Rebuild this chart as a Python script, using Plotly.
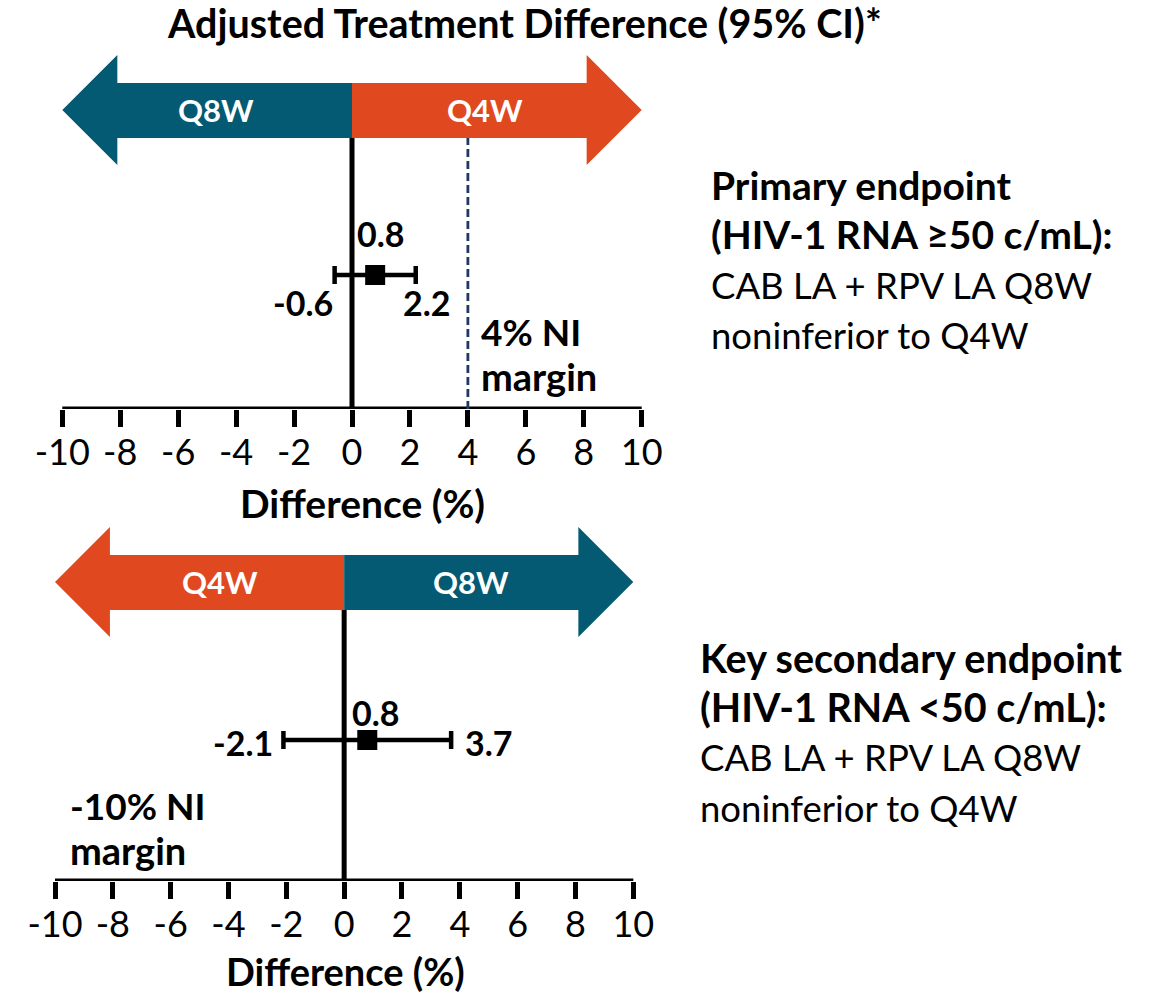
import plotly.graph_objects as go

W, H = 1153, 996

# ---------------- data ----------------
tick_vals = [-10, -8, -6, -4, -2, 0, 2, 4, 6, 8, 10]
tick_text = ["-10", "-8", "-6", "-4", "-2", "0", "2", "4", "6", "8", "10"]

primary_est = [0.8]
primary_lo = [-0.6]
primary_hi = [2.2]
primary_margin = 4

secondary_est = [0.8]
secondary_lo = [-2.1]
secondary_hi = [3.7]
secondary_margin = -10

top_left_label, top_right_label = "Q8W", "Q4W"
bot_left_label, bot_right_label = "Q4W", "Q8W"

title_text = "Adjusted Treatment Difference (95% CI)*"
axis_title = "Difference (%)"
top_margin_text = ["4% NI", "margin"]
bot_margin_text = ["-10% NI", "margin"]
top_side_text = ["<b>Primary endpoint</b>", "<b>(HIV-1 RNA ≥50 c/mL):</b>",
                 "CAB LA + RPV LA Q8W", "noninferior to Q4W"]
bot_side_text = ["<b>Key secondary endpoint</b>", "<b>(HIV-1 RNA <50 c/mL):</b>",
                 "CAB LA + RPV LA Q8W", "noninferior to Q4W"]

# ---------------- style ----------------
TEAL = "#045A72"
ORANGE = "#E0491F"
NAVY = "#1F3864"
FONT = "Lato"
LW = 5

def py(px):
    return 1 - px / H

def pxx(px):
    return px / W

XR = [-10.4, 10.4]
top_x0, top_x1 = 62.3, 641.7
bot_x0, bot_x1 = 55.0, 633.3
def dom(x0, x1):
    u = (x1 - x0) / 20.0
    return [pxx(x0 - 0.4 * u), pxx(x1 + 0.4 * u)]

top_axis_px, bot_axis_px = 409, 881
YR = [0, 360]
top_dom = [py(top_axis_px), py(top_axis_px - 360)]
bot_dom = [py(bot_axis_px), py(bot_axis_px - 360)]

TIP, HEAD = 10.0, 8.1
Y_TIP, Y_HT, Y_HB, Y_BT, Y_BB = 299, 354, 244, 326, 271
ROW_TOP, ROW_BOT = 134, 141

fig = go.Figure()

def arrow_shapes(xref, yref, lcol, rcol):
    left = (f"M 0 {Y_BT} L {-HEAD} {Y_BT} L {-HEAD} {Y_HT} L {-TIP} {Y_TIP} "
            f"L {-HEAD} {Y_HB} L {-HEAD} {Y_BB} L 0 {Y_BB} Z")
    right = (f"M 0 {Y_BT} L {HEAD} {Y_BT} L {HEAD} {Y_HT} L {TIP} {Y_TIP} "
             f"L {HEAD} {Y_HB} L {HEAD} {Y_BB} L 0 {Y_BB} Z")
    return [
        dict(type="path", path=left, xref=xref, yref=yref, fillcolor=lcol,
             line=dict(width=0), layer="below"),
        dict(type="path", path=right, xref=xref, yref=yref, fillcolor=rcol,
             line=dict(width=0), layer="below"),
    ]

shapes = []
shapes += arrow_shapes("x", "y", TEAL, ORANGE)
shapes += arrow_shapes("x2", "y2", ORANGE, TEAL)
for xr, yr in (("x", "y"), ("x2", "y2")):
    shapes.append(dict(type="line", xref=xr, yref=yr, x0=-10, x1=10, y0=0, y1=0,
                       line=dict(color="black", width=LW)))
    shapes.append(dict(type="line", xref=xr, yref=yr, x0=0, x1=0, y0=0, y1=Y_BB,
                       line=dict(color="black", width=LW)))
shapes.append(dict(type="line", xref="x", yref="y", x0=primary_margin, x1=primary_margin,
                   y0=0, y1=Y_BB, line=dict(color=NAVY, width=2.8, dash="8px,4px")))

fig.add_trace(go.Scatter(
    x=primary_est, y=[ROW_TOP], xaxis="x", yaxis="y", mode="markers",
    marker=dict(symbol="square", size=20, color="black"),
    error_x=dict(type="data", symmetric=False,
                 array=[h - e for h, e in zip(primary_hi, primary_est)],
                 arrayminus=[e - l for e, l in zip(primary_est, primary_lo)],
                 color="black", thickness=4.5, width=9),
    showlegend=False, hoverinfo="skip"))
fig.add_trace(go.Scatter(
    x=secondary_est, y=[ROW_BOT], xaxis="x2", yaxis="y2", mode="markers",
    marker=dict(symbol="square", size=20, color="black"),
    error_x=dict(type="data", symmetric=False,
                 array=[h - e for h, e in zip(secondary_hi, secondary_est)],
                 arrayminus=[e - l for e, l in zip(secondary_est, secondary_lo)],
                 color="black", thickness=4.5, width=9),
    showlegend=False, hoverinfo="skip"))

ann = []
def A(text, x, y, xref="paper", yref="paper", size=33, bold=False, color="black",
      xanchor="center", yanchor="middle"):
    t = f"<b>{text}</b>" if bold else text
    ann.append(dict(text=t, x=x, y=y, xref=xref, yref=yref, showarrow=False,
                    xanchor=xanchor, yanchor=yanchor,
                    font=dict(family=FONT, size=size, color=color)))

A(title_text, pxx(524), py(22), size=39.5, bold=True)

A(top_left_label, -4.7, Y_TIP, "x", "y", size=31, bold=True, color="white")
A(top_right_label, 4.6, Y_TIP, "x", "y", size=31, bold=True, color="white")
A(bot_left_label, -4.3, Y_TIP, "x2", "y2", size=31, bold=True, color="white")
A(bot_right_label, 4.4, Y_TIP, "x2", "y2", size=31, bold=True, color="white")

A(f"{primary_est[0]}", 0.1, ROW_TOP + 41, "x", "y", size=34, bold=True, xanchor="left")
A(f"{primary_lo[0]}", primary_lo[0], ROW_TOP - 28, "x", "y", size=34, bold=True, xanchor="right")
A(f"{primary_hi[0]}", primary_hi[0] + 0.4, ROW_TOP - 28, "x", "y", size=34, bold=True)
A(top_margin_text[0], primary_margin + 0.4, 77, "x", "y", size=37, bold=True, xanchor="left")
A(top_margin_text[1], primary_margin + 0.4, 33, "x", "y", size=38, bold=True, xanchor="left")

A(f"{secondary_est[0]}", 0.2, ROW_BOT + 28, "x2", "y2", size=34, bold=True, xanchor="left")
A(f"{secondary_lo[0]}", secondary_lo[0] - 0.3, ROW_BOT - 2, "x2", "y2", size=34, bold=True, xanchor="right")
A(f"{secondary_hi[0]}", secondary_hi[0] + 0.4, ROW_BOT - 2, "x2", "y2", size=34, bold=True, xanchor="left")
A(bot_margin_text[0], -9.55, 76, "x2", "y2", size=37, bold=True, xanchor="left")
A(bot_margin_text[1], -9.55, 31, "x2", "y2", size=38, bold=True, xanchor="left")

A(axis_title, pxx(362), py(503), size=39, bold=True)
A(axis_title, pxx(345), py(971), size=38, bold=True)

for t, yy in zip(top_side_text, [185, 234, 285, 335]):
    A(t, pxx(709), py(yy), size=(39 if t.startswith("<b>") else 36.5), xanchor="left")
for t, yy in zip(bot_side_text, [657, 706, 757, 808]):
    A(t, pxx(698), py(yy), size=(39.5 if t.startswith("<b>") else 36.5), xanchor="left")

xcommon = dict(range=XR, tickvals=tick_vals, ticktext=tick_text, ticks="outside",
               ticklen=17, tickwidth=LW, tickcolor="black", showline=False,
               showgrid=False, zeroline=False, automargin=False,
               ticklabelstandoff=-5,
               tickfont=dict(family=FONT, size=36, color="black"), fixedrange=True)
ycommon = dict(range=YR, visible=False, showgrid=False, zeroline=False,
               automargin=False, fixedrange=True)

fig.update_layout(
    width=W, height=H, margin=dict(l=0, r=0, t=0, b=0, pad=0, autoexpand=False),
    paper_bgcolor="white", plot_bgcolor="rgba(0,0,0,0)",
    xaxis=dict(domain=dom(top_x0, top_x1), anchor="y", **xcommon),
    yaxis=dict(domain=top_dom, anchor="x", **ycommon),
    xaxis2=dict(domain=dom(bot_x0, bot_x1), anchor="y2", **xcommon),
    yaxis2=dict(domain=bot_dom, anchor="x2", **ycommon),
    shapes=shapes, annotations=ann, showlegend=False,
    font=dict(family=FONT),
)

fig.write_html("out.html")
